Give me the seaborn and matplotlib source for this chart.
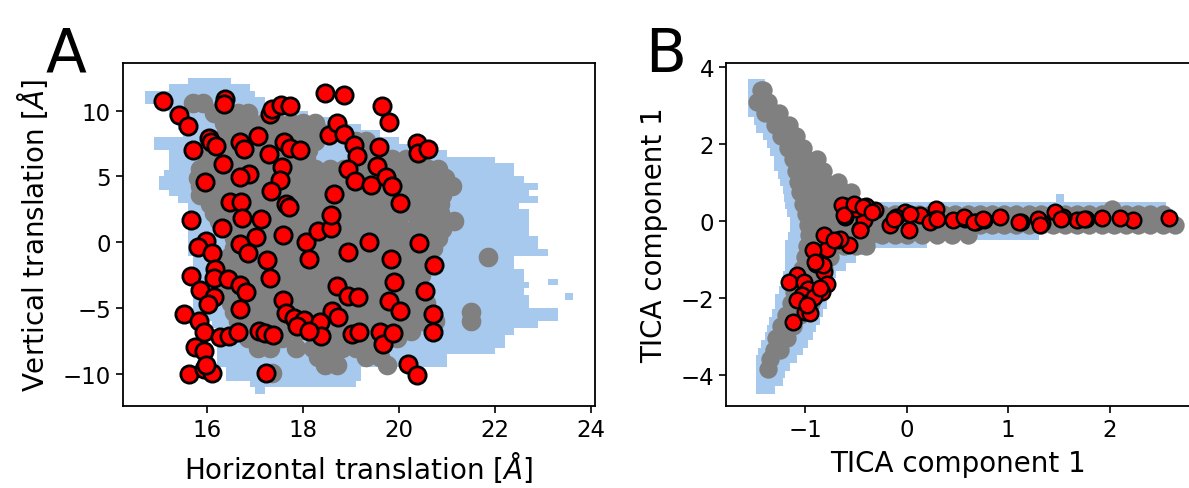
import numpy as np
import pandas as pd
import matplotlib
matplotlib.use("Agg")
import matplotlib.pyplot as plt
import seaborn as sns

# ---------------- Panel A data ----------------
# blue occupancy histogram: rows (y centre, x start, x end), row height 0.5
a_hist_y = [12.25, 11.75, 11.25, 10.75, 10.25, 9.75, 9.25, 8.75, 8.25, 7.75, 7.25, 6.75,
            6.25, 5.75, 5.25, 4.75, 4.25, 3.75, 3.25, 2.75, 2.25, 1.75, 1.25, 0.75, 0.25,
            -0.25, -0.75, -1.25, -1.75, -2.25, -2.75, -3.25, -3.75, -4.25, -4.75, -5.25,
            -5.75, -6.25, -6.75, -7.25, -7.75, -8.25, -8.75, -9.25, -9.75, -10.25, -10.75,
            -11.25, -3.0, -4.1]
a_hist_x0 = [15.6, 15.2, 14.7, 14.7, 15.1, 15.2, 15.3, 15.4, 15.5, 14.9, 14.9, 15.2,
             15.2, 15.2, 15.1, 15.0, 15.0, 15.2, 15.4, 15.6, 15.6, 15.6, 15.6, 15.6, 15.6,
             15.6, 15.6, 15.7, 15.7, 15.7, 15.7, 15.7, 15.7, 15.7, 15.7, 15.7,
             16.0, 16.1, 16.2, 16.2, 16.2, 16.2, 16.2, 16.2, 16.4, 16.4, 16.9,
             17.0, 23.1, 23.45]
a_hist_x1 = [16.5, 16.9, 17.0, 17.2, 17.5, 18.1, 18.6, 19.2, 19.6, 20.0, 20.8, 21.0,
             22.0, 22.4, 22.4, 22.6, 22.9, 22.7, 22.9, 22.5, 22.7, 22.7, 22.7, 22.7, 22.9,
             22.9, 23.1, 22.4, 22.4, 22.6, 22.6, 22.7, 22.6, 22.7, 22.7, 23.3,
             23.3, 22.9, 22.4, 22.2, 22.2, 22.0, 21.0, 21.0, 19.2, 19.2, 19.1,
             17.2, 23.3, 23.62]

# grey trajectory frames: rows of (y, x values)
a_gray_rows = [
    (10.6, [15.7, 15.92]),
    (9.8, [16.15, 16.4, 16.65, 16.85]),
    (9.1, [16.35, 16.62, 16.9, 17.18, 17.46, 17.74, 18.0, 18.25]),
    (8.4, [16.4, 16.68, 16.96, 17.24, 17.52, 17.8, 18.08, 18.36, 18.62, 18.8]),
    (7.7, [16.35, 16.63, 16.91, 17.19, 17.47, 17.75, 18.03, 18.25, 19.1, 19.3]),
    (7.0, [16.2, 16.48, 16.76, 17.04, 17.32, 17.6, 17.88, 18.1, 19.2, 19.45]),
    (6.3, [16.0, 16.3, 16.6, 16.9, 17.2, 17.5, 17.8, 18.05, 19.25, 19.55, 19.85, 20.15, 20.4]),
    (5.6, [15.85, 16.15, 16.45, 16.75, 17.05, 17.35, 17.65, 17.95, 18.25, 18.55, 18.85, 19.15, 19.45, 19.75, 20.05, 20.35, 20.6, 20.8]),
    (4.9, [15.8, 16.1, 16.4, 16.7, 17.0, 17.3, 17.6, 17.9, 18.2, 18.5, 18.8, 19.1, 19.4, 19.7, 20.0, 20.3, 20.55, 20.8, 20.95]),
    (4.3, [15.85, 16.15, 16.45, 16.75, 17.05, 17.35, 17.65, 17.95, 18.25, 18.55, 18.85, 19.15, 19.45, 19.75, 20.05, 20.35, 20.6, 20.85, 21.1]),
    (3.6, [15.85, 16.15, 16.45, 16.75, 17.05, 17.35, 17.65, 17.95, 18.25, 18.55, 18.85, 19.15, 19.45, 19.75, 20.05, 20.35, 20.6, 20.9]),
    (2.9, [16.05, 16.35, 16.65, 16.95, 17.25, 17.55, 17.85, 18.15, 18.45, 18.75, 19.05, 19.35, 19.65, 19.95, 20.25, 20.55, 20.85]),
    (2.2, [16.15, 16.45, 16.75, 17.05, 17.35, 17.65, 17.95, 18.25, 18.55, 18.85, 19.15, 19.45, 19.75, 20.05, 20.35, 20.6, 20.85]),
    (1.6, [16.25, 16.55, 16.85, 17.15, 17.45, 17.75, 18.05, 18.35, 18.65, 18.95, 19.25, 19.55, 19.8, 20.4, 20.7, 21.15]),
    (1.0, [16.45, 16.75, 17.05, 17.35, 17.65, 17.95, 18.25, 18.55, 18.85, 19.15, 19.45, 19.75, 20.05, 20.35, 20.6, 20.9]),
    (0.3, [16.55, 16.85, 17.15, 17.45, 17.75, 18.05, 18.35, 18.65, 18.95, 19.25, 19.55, 19.85, 20.15, 20.45, 20.8]),
    (-0.4, [16.55, 16.85, 17.15, 17.45, 17.75, 18.05, 18.35, 18.65, 18.95, 19.25, 19.55, 19.85, 20.15, 20.45, 20.7]),
    (-1.1, [16.45, 16.75, 17.05, 17.35, 17.65, 17.95, 18.25, 18.55, 18.85, 19.15, 19.45, 19.75, 20.05, 20.35, 20.55, 21.85]),
    (-1.8, [16.35, 16.65, 16.95, 17.25, 17.55, 17.85, 18.15, 18.45, 18.75, 19.05, 19.35, 19.65, 19.95, 20.25, 20.45]),
    (-2.5, [16.35, 16.65, 16.95, 17.25, 17.55, 17.85, 18.15, 18.45, 18.75, 19.05, 19.35, 19.65, 19.95, 20.25, 20.45]),
    (-3.2, [16.35, 16.65, 16.95, 17.25, 17.55, 17.85, 18.15, 18.45, 18.75, 19.05, 19.35, 19.65, 19.95, 20.2, 20.4]),
    (-3.9, [16.45, 16.75, 17.05, 17.35, 17.65, 17.95, 18.25, 18.55, 18.85, 19.15, 19.45, 19.75, 20.05, 20.3, 20.45]),
    (-4.6, [16.5, 16.8, 17.1, 17.4, 17.7, 18.0, 18.3, 18.6, 18.9, 19.2, 19.5, 19.8, 20.1, 20.35, 20.55]),
    (-5.3, [16.55, 16.85, 17.15, 17.45, 17.75, 18.05, 18.35, 18.65, 18.95, 19.25, 19.55, 19.85, 20.15, 20.4, 20.55, 21.5]),
    (-6.0, [16.65, 16.95, 17.25, 17.55, 17.85, 18.15, 18.45, 18.75, 19.05, 19.35, 19.65, 19.95, 20.25, 20.5, 20.75, 21.5]),
    (-6.7, [17.0, 17.3, 17.6, 17.9, 18.2, 18.5, 18.8, 19.1, 19.4, 19.7, 20.0, 20.25]),
    (-7.3, [16.85, 17.1, 17.35, 17.55, 18.3, 18.6, 18.9, 19.2, 19.5, 19.75, 19.95]),
    (-8.0, [17.05, 17.3, 17.85, 18.2, 18.5, 18.8, 19.1, 19.35, 19.55]),
    (-8.7, [18.3, 18.6, 19.3, 19.6]),
    (-9.3, [18.45, 18.7, 19.75]),
    (-9.9, [17.35]),
]

# red selected frames
a_red_x = [15.08, 15.42, 15.60, 16.37, 16.36, 15.71, 16.04, 16.07, 16.18, 15.95, 16.32, 16.69,
           16.77, 17.06, 17.30, 17.35, 17.53, 17.73, 17.28, 17.61, 17.73, 17.93, 17.56, 17.52,
           17.33, 16.87, 16.69, 16.48, 16.71, 16.30, 15.66, 16.73, 17.13, 17.65, 17.70, 17.57,
           17.01, 16.69, 16.85, 15.98, 15.80, 16.10, 15.66, 16.16, 16.14, 15.86, 16.14, 16.02,
           16.43, 16.68, 16.81, 16.69, 15.52, 15.82, 15.94, 15.74, 15.94, 16.26, 16.45, 16.65,
           15.62, 15.94, 16.10, 15.98, 17.23, 17.09, 17.20, 17.37, 17.25, 17.31, 17.57, 17.65,
           17.81, 18.01, 17.88, 18.05, 18.12, 18.31, 18.57, 18.59, 18.65, 18.45, 18.85, 18.53,
           18.71, 18.85, 19.06, 19.13, 18.94, 19.07, 19.37, 18.93, 18.71, 18.93, 19.14, 18.61,
           18.73, 18.35, 18.38, 18.13, 19.01, 19.17, 19.57, 19.65, 19.78, 19.53, 19.42, 19.73,
           19.85, 20.01, 20.37, 20.39, 20.60, 20.42, 19.82, 19.90, 20.54, 20.72, 19.78, 20.01,
           19.61, 19.66, 19.87, 20.71, 20.71, 20.19, 20.37]
a_red_y = [10.74, 9.69, 8.85, 10.90, 10.50, 6.99, 7.96, 7.63, 7.30, 4.57, 5.94, 7.65,
           7.07, 8.04, 9.72, 10.13, 10.43, 10.38, 6.68, 7.65, 7.14, 7.02, 5.71, 4.77,
           3.88, 5.20, 4.97, 3.04, 3.04, 1.07, 1.68, 1.84, 1.81, 2.93, 2.70, 0.59,
           0.43, -0.13, -0.84, 0.10, -0.33, -0.84, -2.53, -1.99, -2.70, -3.60, -4.16, -4.72,
           -2.76, -3.27, -3.78, -5.05, -5.43, -5.94, -6.84, -7.93, -8.24, -7.22, -7.09, -6.79,
           -10.03, -9.64, -9.90, -9.30, -9.95, -6.71, -6.90, -7.04, -1.35, -2.70, -4.36, -5.36,
           -5.74, -5.89, -6.33, 0.00, -1.30, 0.87, 1.07, 2.07, 3.70, 11.33, 11.22, 8.16,
           9.06, 8.21, 7.40, 6.56, 5.54, 4.69, 0.05, -0.77, -3.34, -4.08, -4.16, -5.18,
           -5.69, -6.02, -7.09, -6.71, -6.96, -6.79, 7.27, 10.33, 9.11, 5.79, 4.39, 4.97,
           4.26, 2.98, 7.58, 6.81, 7.07, -0.08, -1.30, -3.01, -3.72, -1.73, -4.49, -5.18,
           -6.84, -7.73, -6.89, -5.48, -6.84, -9.26, -10.08]

# ---------------- Panel B data ----------------
b_hist_y = [3.6, 3.4, 3.2, 3.0, 2.8, 2.6, 2.4, 2.2, 2.0, 1.8, 1.6, 1.4, 1.2, 1.0, 0.8, 0.6,
            0.4, 0.2, 0.0, -0.2, -0.4, -0.6, -0.8, -1.0, -1.2, -1.4, -1.6, -1.8, -2.0, -2.2,
            -2.4, -2.6, -2.8, -3.0, -3.2, -3.4, -3.6, -3.8, -4.0, -4.2, -4.4, 0.6, 0.4]
b_hist_x0 = [-1.56, -1.56, -1.56, -1.56, -1.56, -1.50, -1.48, -1.42, -1.38, -1.35, -1.31, -1.31,
             -1.27, -1.25, -1.22, -1.21, -1.20, -1.18, -1.15, -1.15, -1.17, -1.20, -1.20, -1.20,
             -1.20, -1.22, -1.23, -1.26, -1.30, -1.30, -1.33, -1.36, -1.38, -1.40, -1.44, -1.46,
             -1.48, -1.48, -1.48, -1.48, -1.48, 1.47, 2.2]
b_hist_x1 = [-1.40, -1.36, -1.33, -1.30, -1.27, -1.24, -1.18, -1.15, -1.10, -1.05, -0.98, -0.90,
             -0.82, -0.72, -0.60, -0.52, 2.20, 2.62, 2.62, 2.55, 1.30, 0.20, -0.35, -0.50,
             -0.60, -0.70, -0.72, -0.75, -0.79, -0.79, -0.82, -0.85, -0.89, -0.92, -0.97, -1.02,
             -1.08, -1.15, -1.20, -1.22, -1.30, 1.55, 2.55]

b_gray_rows = [
    (3.40, [-1.44, -1.42]),
    (3.10, [-1.47, -1.37]),
    (2.80, [-1.40, -1.26]),
    (2.50, [-1.30, -1.16]),
    (2.20, [-1.24, -1.09]),
    (1.90, [-1.17, -1.02]),
    (1.60, [-1.12, -0.99, -0.88]),
    (1.30, [-1.09, -0.96, -0.82]),
    (1.00, [-1.07, -0.93, -0.80, -0.68]),
    (0.75, [-1.05, -0.91, -0.77, -0.63, -0.55]),
    (0.45, [-1.02, -0.89, -0.76, -0.63, -0.52]),
    (0.18, [-0.99, -0.86, -0.73, -0.60, -0.48, -0.36, -0.24, -0.12, 0.00, 0.12, 0.24, 0.36,
            0.48, 0.60, 0.72, 0.84, 0.96, 1.08, 1.20, 1.32, 1.44, 1.56, 1.68, 1.80, 1.92,
            2.04, 2.16, 2.28, 2.40, 2.52]),
    (-0.10, [-0.97, -0.84, -0.72, -0.60, -0.48, -0.36, -0.24, -0.12, 0.00, 0.12, 0.24, 0.36,
             0.48, 0.60, 0.72, 0.84, 0.96, 1.08, 1.20, 1.32, 1.44, 1.56, 1.68, 1.80, 1.92,
             2.04, 2.16, 2.28, 2.40, 2.52, 2.64]),
    (-0.38, [-0.96, -0.84, -0.72, -0.60, -0.48, -0.36, -0.24, -0.12, 0.00, 0.15, 0.30, 0.45,
             0.60]),
    (-0.65, [-0.98, -0.86, -0.74, -0.62, -0.50, -0.40]),
    (-0.95, [-1.00, -0.87, -0.76]),
    (-1.25, [-1.03, -0.91, -0.81]),
    (-1.55, [-1.08, -0.95, -0.85]),
    (-1.85, [-1.11, -0.99, -0.89]),
    (-2.15, [-1.14, -1.03, -0.94]),
    (-2.45, [-1.19, -1.05]),
    (-2.75, [-1.24, -1.12]),
    (-3.05, [-1.29, -1.18]),
    (-3.35, [-1.31, -1.25]),
    (-3.60, [-1.35]),
    (-3.85, [-1.37]),
    (0.32, [2.02]),
]

b_red_x = [2.58, 2.23, 2.10, 1.92, 1.77, 1.68, 1.54, 1.46, 1.33, 1.29, 1.13, 0.92, 0.76, 0.68,
           0.57, 0.46, 0.29, 0.28, 0.13, 0.02, -0.02, -0.11, -0.16, -0.31, -0.40, -0.46, -0.42,
           -0.50, -0.61, -0.61, -0.57, -0.68, -0.79, -0.81, -0.92, -0.89, -0.81, -0.79, -0.83,
           -1.08, -1.16, -1.01, -0.97, -1.03, -1.08, -0.96, -1.00, -1.12, -0.91,
           -0.64, -0.62, -0.52, -0.43, -0.46, -0.34, -0.13, 0.03, 0.23, 0.30, 0.56, 0.66, 0.75,
           1.11, 1.31, 1.52, 1.75, -0.66, -0.72, -0.82, -0.90, -0.95, -0.85, -0.98]
b_red_y = [0.07, 0.01, 0.07, 0.07, 0.05, 0.01, 0.09, 0.23, -0.06, 0.05, -0.02, 0.10, 0.03, -0.03,
           0.05, 0.01, 0.30, 0.05, 0.14, -0.23, 0.23, 0.10, -0.12, 0.27, 0.40, -0.21, 0.01,
           0.31, 0.10, 0.40, -0.64, -0.51, -0.73, -0.38, -0.77, -1.12, -1.34, -1.64, -1.84,
           -1.42, -1.58, -1.60, -1.77, -1.93, -2.07, -2.12, -2.38, -2.64, -1.97,
           0.41, 0.15, 0.45, 0.36, -0.24, 0.23, 0.06, 0.19, -0.03, 0.06, 0.10, -0.03, 0.06,
           -0.03, -0.11, 0.06, 0.06, -0.46, -0.50, -1.15, -1.07, -2.41, -1.76, -2.20]

# ---------------- drawing ----------------
BLUE = "#a7c9ee"
GRAY = "#808080"
RED = "#ff0000"

sns.set_style("ticks")
plt.rcParams["font.family"] = ["DejaVu Sans"]
plt.rcParams["mathtext.fontset"] = "dejavusans"
for key in ("text.color", "axes.labelcolor", "xtick.color", "ytick.color", "axes.edgecolor"):
    plt.rcParams[key] = "black"

fig = plt.figure(figsize=(11.89, 4.89), dpi=100)
axA = fig.add_axes([122.7 / 1189, 82 / 489, (595 - 122.7) / 1189, (407 - 64) / 489])
axB = fig.add_axes([726 / 1189, 82 / 489, (1191 - 726) / 1189, (407 - 64) / 489])


def rows_to_df(rows):
    xs, ys = [], []
    for y, xl in rows:
        xs += list(xl)
        ys += [y] * len(xl)
    return pd.DataFrame({"x": xs, "y": ys})


def panel(ax, hy, hx0, hx1, hh, gray_df, rx, ry, s_gray, s_red, lw_red):
    hx0 = np.array(hx0)
    hx1 = np.array(hx1)
    ax.barh(hy, hx1 - hx0, left=hx0, height=hh, color=BLUE, linewidth=0, zorder=1)
    sns.scatterplot(data=gray_df, x="x", y="y", ax=ax, color=GRAY, s=s_gray,
                    linewidth=0, alpha=1, zorder=2, legend=False)
    sns.scatterplot(x=rx, y=ry, ax=ax, color=RED, s=s_red, edgecolor="black",
                    linewidth=lw_red, zorder=3, legend=False)


panel(axA, a_hist_y, a_hist_x0, a_hist_x1, 0.5, rows_to_df(a_gray_rows),
      a_red_x, a_red_y, 200, 155, 2.0)
panel(axB, b_hist_y, b_hist_x0, b_hist_x1, 0.2, rows_to_df(b_gray_rows),
      b_red_x, b_red_y, 175, 125, 1.8)

axA.set_xlim(14.24, 24.08)
axA.set_ylim(-12.43, 13.62)
axA.set_xticks([16, 18, 20, 22, 24])
axA.set_yticks([-10, -5, 0, 5, 10])
axA.set_xlabel("Horizontal translation [$Å$]", fontsize=20, labelpad=6)
axA.set_ylabel("Vertical translation [$Å$]", fontsize=20, labelpad=9)

axB.set_xlim(-1.78, 2.8)
axB.set_ylim(-4.82, 4.11)
axB.set_xticks([-1, 0, 1, 2])
axB.set_yticks([-4, -2, 0, 2, 4])
axB.set_xlabel("TICA component 1", fontsize=20, labelpad=6)
axB.set_ylabel("TICA component 1", fontsize=20, labelpad=9)

for ax in (axA, axB):
    for sp in ax.spines.values():
        sp.set_visible(True)
        sp.set_linewidth(1.3)
        sp.set_color("black")
    ax.tick_params(labelsize=16.5, length=5, width=1.2, color="black", labelcolor="black")

fig.text(46 / 1189, 1 - 72 / 489, "A", fontsize=43, ha="left", va="baseline")
fig.text(645 / 1189, 1 - 72 / 489, "B", fontsize=43, ha="left", va="baseline")

fig.savefig("out.png", dpi=100)
